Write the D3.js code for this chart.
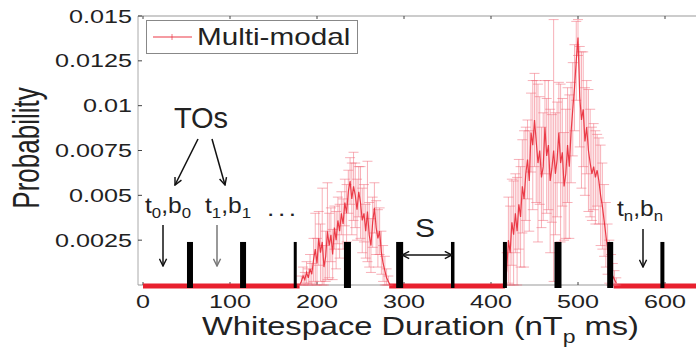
<!DOCTYPE html>
<html><head><meta charset="utf-8">
<script src="https://cdn.jsdelivr.net/npm/d3@7"></script>
<style>body{margin:0;background:#fff}svg{display:block}</style>
</head><body>
<script>
// ---------- data ----------
const xTicks = [0,100,200,300,400,500,600];
const yTicks = [0.0025,0.005,0.0075,0.01,0.0125,0.015];
const yTickLabels = ["0.0025","0.005","0.0075","0.01","0.0125","0.015"];
const seriesName = "Multi-modal";
// zero-probability ranges (ms)
const zeroRanges = [[0,180],[283,416],[541,650]];
// cluster 1
const c1x = [180,182,184,186,188,190,192,194,196,198,
             200,202,204,206,208,210,212,214,216,218,
             220,222,224,226,228,230,232,234,236,238,
             240,242,244,246,248,250,252,254,256,258,
             260,262,264,266,268,270,272,274,276,278,
             280,282,284];
const c1m = [0,0.0002,0.0005,0.0003,0.0007,0.0004,0.0009,0.0006,0.0014,0.0020,
             0.0012,0.0026,0.0018,0.0024,0.0010,0.0016,0.0030,0.0022,0.0028,0.0017,
             0.0032,0.0025,0.0036,0.0030,0.0040,0.0034,0.0046,0.0040,0.0052,0.0058,
             0.0048,0.0055,0.0050,0.0042,0.0052,0.0046,0.0036,0.0040,0.0030,0.0041,
             0.0028,0.0022,0.0035,0.0043,0.0032,0.0026,0.0030,0.0018,0.0012,0.0008,
             0.0004,0.0002,0];
const c1e = [0,0.0003,0.0005,0.0004,0.0006,0.0005,0.0008,0.0006,0.0012,0.0020,
             0.0014,0.0015,0.0016,0.0030,0.0012,0.0014,0.0027,0.0018,0.0015,0.0014,
             0.0012,0.0016,0.0013,0.0015,0.0012,0.0014,0.0013,0.0016,0.0012,0.0013,
             0.0020,0.0019,0.0018,0.0017,0.0014,0.0020,0.0018,0.0016,0.0015,0.0028,
             0.0018,0.0015,0.0014,0.0014,0.0015,0.0016,0.0013,0.0012,0.0010,0.0008,
             0.0005,0.0003,0];
// cluster 2
const c2x = [416,418,420,422,424,426,428,430,432,434,
             436,438,440,442,444,446,448,450,452,454,
             456,458,460,462,464,466,468,470,472,474,
             476,478,480,482,484,486,488,490,492,494,
             496,498,500,502,504,506,508,510,512,514,
             516,518,520,522,524,526,528,530,532,534,
             536,538,540,542,544];
const c2m = [0,0.0008,0.0025,0.0018,0.0035,0.0028,0.0040,0.0030,0.0045,0.0038,
             0.0055,0.0048,0.0062,0.0070,0.0058,0.0085,0.0078,0.0092,0.0080,0.0068,
             0.0075,0.0060,0.0066,0.0088,0.0072,0.0078,0.0058,0.0065,0.0075,0.0062,
             0.0070,0.0085,0.0068,0.0074,0.0055,0.0062,0.0078,0.0066,0.0085,0.0098,
             0.0110,0.0125,0.0138,0.0105,0.0092,0.0098,0.0080,0.0088,0.0075,0.0068,
             0.0062,0.0066,0.0060,0.0064,0.0058,0.0050,0.0044,0.0036,0.0028,0.0020,
             0.0013,0.0008,0.0005,0.0003,0.0001];
const c2e = [0,0.0010,0.0024,0.0026,0.0024,0.0030,0.0022,0.0030,0.0025,0.0028,
             0.0026,0.0038,0.0026,0.0022,0.0028,0.0022,0.0036,0.0026,0.0034,0.0044,
             0.0030,0.0028,0.0030,0.0026,0.0032,0.0036,0.0040,0.0030,0.0073,0.0034,
             0.0032,0.0028,0.0044,0.0030,0.0030,0.0036,0.0032,0.0040,0.0028,0.0026,
             0.0024,0.0022,0.0010,0.0028,0.0038,0.0032,0.0030,0.0026,0.0034,0.0030,
             0.0026,0.0024,0.0026,0.0020,0.0024,0.0028,0.0024,0.0020,0.0018,0.0014,
             0.0012,0.0009,0.0007,0.0005,0.0003];
// transmission opportunities (TO) positions, ms
const toX = [54,115,175,235,295,356,416,477,537,597];
const toLevel = 0.0024;

// ---------- styles ----------
const toWidths = [6,6,3,7,7,3.5,4,7,6,4];
const FONT = "'Liberation Sans', Arial, Helvetica, sans-serif";
const TXT = "#222";
const RED = "#e8202e";
const PINK = "rgba(242,100,115,0.5)";

const W = 696, H = 349;
const svg = d3.select("body").append("svg").attr("width",W).attr("height",H)
  .style("font-family",FONT);

const x = d3.scaleLinear().domain([0,600]).range([143,665]);
const y = d3.scaleLinear().domain([0,0.015]).range([285,16]);
const pLeft = 138, pRight = 710, pTop = y(0.015), pBottom = y(0);

const defs = svg.append("defs");
function marker(id,color){
  defs.append("marker").attr("id",id).attr("viewBox","0 0 10 10")
    .attr("refX",9).attr("refY",5).attr("markerWidth",9).attr("markerHeight",9)
    .attr("markerUnits","userSpaceOnUse").attr("orient","auto-start-reverse")
    .append("path").attr("d","M1,1 L9,5 L1,9").attr("fill","none")
    .attr("stroke",color).attr("stroke-width",1.6);
}
marker("ab","#111"); marker("ag","#777");

function stext(g, px, py, sx, size, anchor){
  return g.append("text").attr("transform",`translate(${px},${py}) scale(${sx},1)`)
    .attr("font-size",size).attr("text-anchor",anchor||"start").attr("fill",TXT);
}

// frame
svg.append("line").attr("x1",pLeft).attr("x2",pRight).attr("y1",pTop).attr("y2",pTop).attr("stroke","#999");
svg.append("line").attr("x1",pLeft).attr("x2",pLeft).attr("y1",pTop).attr("y2",pBottom).attr("stroke","#aaa");
svg.append("line").attr("x1",pLeft).attr("x2",pRight).attr("y1",pBottom).attr("y2",pBottom).attr("stroke","#999");

// ticks
const gt = svg.append("g").attr("stroke","#444").attr("stroke-width",1);
xTicks.forEach(v=>{
  gt.append("line").attr("x1",x(v)).attr("x2",x(v)).attr("y1",pTop).attr("y2",pTop+3);
  gt.append("line").attr("x1",x(v)).attr("x2",x(v)).attr("y1",pBottom).attr("y2",pBottom-3);
});
yTicks.forEach(v=>{
  gt.append("line").attr("x1",pLeft).attr("x2",pLeft+4).attr("y1",y(v)).attr("y2",y(v));
});

// tick labels
xTicks.forEach(v=>{ stext(svg, x(v), 308, 1.4, 18, "middle").text(String(v)); });
yTicks.forEach((v,i)=>{ stext(svg, 132, y(v)+6.5, 1.4, 18, "end").text(yTickLabels[i]); });

// axis titles
const xl = stext(svg, 202, 335, 1.28, 25.5, "start");
xl.append("tspan").text("Whitespace Duration (nT");
xl.append("tspan").attr("font-size",18).attr("dy",8).text("p");
xl.append("tspan").attr("dy",-8).text(" ms)");
svg.append("text").attr("transform","translate(39,148) scale(1.4,1) rotate(-90)")
  .attr("font-size",26).attr("text-anchor","middle").attr("fill",TXT).text("Probability");

// zero segments
svg.append("g").selectAll("line").data(zeroRanges).join("line")
  .attr("x1",d=>x(d[0])).attr("x2",d=>x(d[1])).attr("y1",pBottom+1).attr("y2",pBottom+1)
  .attr("stroke",RED).attr("stroke-width",5);

// clusters
function cluster(xs, ms, es){
  const pts = xs.map((v,i)=>({x:v,m:ms[i],e:es[i]}));
  const g = svg.append("g");
  const eb = g.append("g").attr("stroke",PINK).attr("stroke-width",1);
  pts.forEach(p=>{
    if(!(p.e>0)) return;
    const lo = Math.max(0,p.m-p.e), hi = p.m+p.e;
    eb.append("line").attr("x1",x(p.x)).attr("x2",x(p.x)).attr("y1",y(lo)).attr("y2",y(hi));
    eb.append("line").attr("x1",x(p.x)-5).attr("x2",x(p.x)+5).attr("y1",y(hi)).attr("y2",y(hi));
    eb.append("line").attr("x1",x(p.x)-5).attr("x2",x(p.x)+5).attr("y1",y(lo)).attr("y2",y(lo));
  });
  g.append("path").datum(pts).attr("fill","none").attr("stroke",RED).attr("stroke-width",1.2)
    .attr("stroke-opacity",0.85)
    .attr("d",d3.line().x(d=>x(d.x)).y(d=>y(d.m)));
}
cluster(c1x,c1m,c1e);
cluster(c2x,c2m,c2e);

// TO bars
svg.append("g").selectAll("rect").data(toX).join("rect")
  .attr("x",(d,i)=>x(d)-toWidths[i]/2).attr("width",(d,i)=>toWidths[i])
  .attr("y",y(toLevel)).attr("height",pBottom+3-y(toLevel)).attr("fill","#000");

// legend
svg.append("rect").attr("x",146.5).attr("y",20.5).attr("width",211).attr("height",33)
  .attr("fill","#fff").attr("stroke","#888");
svg.append("line").attr("x1",153).attr("x2",192).attr("y1",37).attr("y2",37).attr("stroke",RED).attr("stroke-opacity",0.6).attr("stroke-width",1.3);
svg.append("line").attr("x1",172).attr("x2",172).attr("y1",34).attr("y2",40).attr("stroke",RED).attr("stroke-opacity",0.6);
stext(svg, 197, 45, 1.29, 23, "start").text(seriesName);

// annotations
stext(svg, 201, 128, 1.0, 29, "middle").text("TOs");
const ar = svg.append("g").attr("stroke","#111").attr("stroke-width",1.5);
ar.append("line").attr("x1",198).attr("y1",139).attr("x2",175).attr("y2",185).attr("marker-end","url(#ab)");
ar.append("line").attr("x1",212).attr("y1",139).attr("x2",225).attr("y2",185).attr("marker-end","url(#ab)");
ar.append("line").attr("x1",163).attr("y1",225).attr("x2",163).attr("y2",266).attr("marker-end","url(#ab)");
ar.append("line").attr("x1",643).attr("y1",229).attr("x2",643).attr("y2",267).attr("marker-end","url(#ab)");
ar.append("line").attr("x1",402).attr("y1",255).attr("x2",452).attr("y2",255)
  .attr("marker-start","url(#ab)").attr("marker-end","url(#ab)").attr("stroke-width",1.3);
svg.append("line").attr("x1",217).attr("y1",225).attr("x2",217).attr("y2",266)
  .attr("stroke","#777").attr("stroke-width",1.5).attr("marker-end","url(#ag)");

function tb(px, py, sub){
  const t = stext(svg, px, py, 1.12, 22, "start");
  t.append("tspan").text("t");
  t.append("tspan").attr("font-size",15).attr("dy",5).text(sub);
  t.append("tspan").attr("dy",-5).text(",b");
  t.append("tspan").attr("font-size",15).attr("dy",5).text(sub);
}
tb(145, 213, "0");
tb(205, 213, "1");
tb(617, 216, "n");
stext(svg, 267, 216, 1.2, 22, "start").attr("letter-spacing",3).text("...");
stext(svg, 425, 237, 1.15, 26, "middle").text("S");
</script>
</body></html>
